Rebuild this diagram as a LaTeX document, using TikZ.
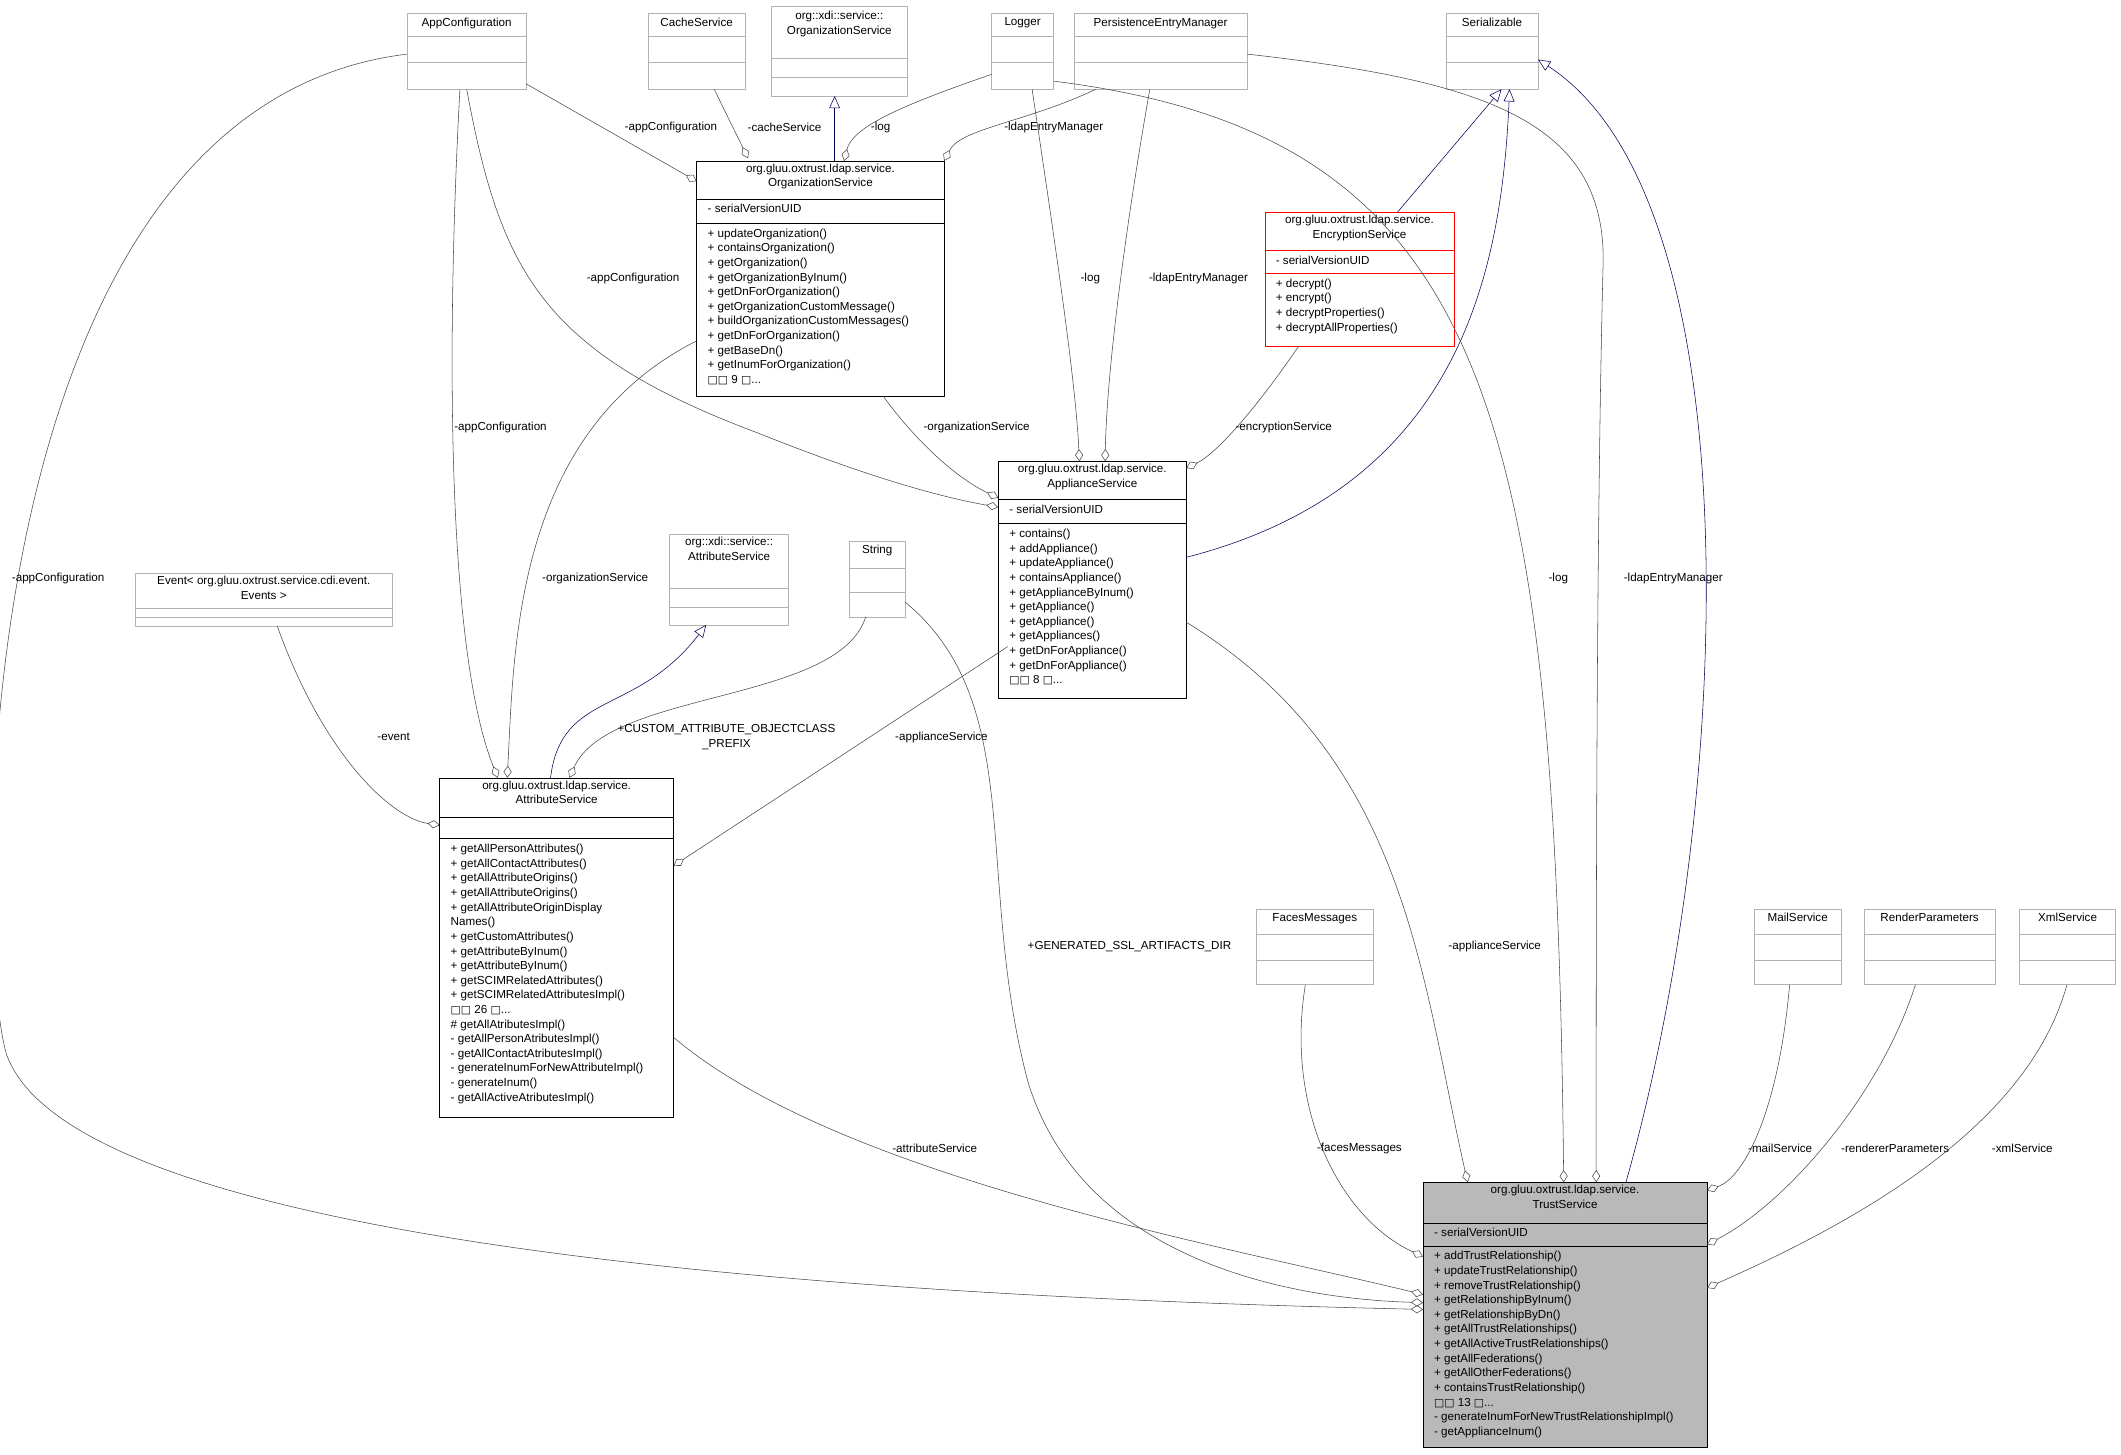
\documentclass[tikz,border=0pt]{standalone}
\usepackage{fontspec}
\setmainfont{Liberation Sans}
\newfontfamily\dv{DejaVu Sans}
\usetikzlibrary{arrows.meta}
\newcommand\bx{{\dv\fontsize{8}{10}\selectfont\char"25A1}}
\newcommand\cls[8]{%
 \draw[#8] (#2,#3) rectangle (#4,#5);
 \coordinate (#1) at ({(#2+#4)/2},{(#3+#5)/2});
 \draw[#8] (#2,#6)--(#4,#6) (#2,#7)--(#4,#7);}
\tikzset{
 txt/.style={font=\fontsize{8.6}{10.8}\selectfont, inner sep=0pt},
 ttl/.style={txt, align=center, anchor=north},
 mem/.style={txt, align=left, anchor=north west},
 lbl/.style={txt, align=center, fill=white, fill opacity=0, text opacity=1},
 gbox/.style={draw=gray!60},
 bbox/.style={draw=black},
 agg/.style={draw=black!72, -{Diamond[open,length=9pt,width=6pt]}},
 inh/.style={draw=blue!35!black, -{Triangle[open,length=9pt,width=8pt]}}
}
\begin{document}
\begin{tikzpicture}[x=1pt,y=-1pt]
\fill[white] (0,0) rectangle (1568,1075);
\useasboundingbox (0,0) rectangle (1568,1075);
% classes
\cls{appc}{301}{10}{389}{66}{27}{46}{gbox}
\node[ttl] at (345,13) {AppConfiguration};
\cls{cache}{479}{10}{551}{66}{27}{46}{gbox}
\node[ttl] at (515,13) {CacheService};
\cls{xos}{570}{5}{671}{71}{43}{57}{gbox}
\node[ttl] at (620.5,8) {org::xdi::service::\\OrganizationService};
\cls{log}{733}{10}{779}{66}{27}{46}{gbox}
\node[ttl] at (756,13) {Logger};
\cls{pem}{794}{10}{922}{66}{27}{46}{gbox}
\node[ttl] at (858,13) {PersistenceEntryManager};
\cls{ser}{1069}{10}{1137}{66}{27}{46}{gbox}
\node[ttl] at (1103,13) {Serializable};
\cls{os}{515}{119}{698}{293}{147}{165}{bbox}
\node[ttl] at (606.5,121) {org.gluu.oxtrust.ldap.service.\\OrganizationService};
\node[mem] at (523,151) {- serialVersionUID};
\node[mem] at (523,169) {+ updateOrganization()\\+ containsOrganization()\\+ getOrganization()\\+ getOrganizationByInum()\\+ getDnForOrganization()\\+ getOrganizationCustomMessage()\\+ buildOrganizationCustomMessages()\\+ getDnForOrganization()\\+ getBaseDn()\\+ getInumForOrganization()\\\bx\bx{} 9 \bx...};
\cls{enc}{935}{157}{1075}{256}{185}{202}{draw=red}
\node[ttl] at (1005,159) {org.gluu.oxtrust.ldap.service.\\EncryptionService};
\node[mem] at (943,189) {- serialVersionUID};
\node[mem] at (943,206) {+ decrypt()\\+ encrypt()\\+ decryptProperties()\\+ decryptAllProperties()};
\cls{app}{738}{341}{877}{516}{369}{387}{bbox}
\node[ttl] at (807.5,343) {org.gluu.oxtrust.ldap.service.\\ApplianceService};
\node[mem] at (746,373) {- serialVersionUID};
\node[mem] at (746,391) {+ contains()\\+ addAppliance()\\+ updateAppliance()\\+ containsAppliance()\\+ getApplianceByInum()\\+ getAppliance()\\+ getAppliance()\\+ getAppliances()\\+ getDnForAppliance()\\+ getDnForAppliance()\\\bx\bx{} 8 \bx...};
\cls{ev}{100}{424}{290}{463}{450}{456}{gbox}
\node[ttl] at (195,426) {Event< org.gluu.oxtrust.service.cdi.event.\\Events >};
\cls{xas}{495}{395}{583}{462}{435}{449}{gbox}
\node[ttl] at (539,397) {org::xdi::service::\\AttributeService};
\cls{str}{628}{400}{669}{456}{420}{438}{gbox}
\node[ttl] at (648.5,403) {String};
\cls{as}{325}{575}{498}{826}{604}{620}{bbox}
\node[ttl] at (411.5,577) {org.gluu.oxtrust.ldap.service.\\AttributeService};
\node[mem] at (333,624) {+ getAllPersonAttributes()\\+ getAllContactAttributes()\\+ getAllAttributeOrigins()\\+ getAllAttributeOrigins()\\+ getAllAttributeOriginDisplay\\Names()\\+ getCustomAttributes()\\+ getAttributeByInum()\\+ getAttributeByInum()\\+ getSCIMRelatedAttributes()\\+ getSCIMRelatedAttributesImpl()\\\bx\bx{} 26 \bx...\\\# getAllAtributesImpl()\\- getAllPersonAtributesImpl()\\- getAllContactAtributesImpl()\\- generateInumForNewAttributeImpl()\\- generateInum()\\- getAllActiveAtributesImpl()};
\cls{fm}{929}{672}{1015}{728}{691}{710}{gbox}
\node[ttl] at (972,675) {FacesMessages};
\cls{ms}{1297}{672}{1361}{728}{691}{710}{gbox}
\node[ttl] at (1329,675) {MailService};
\cls{rp}{1378}{672}{1475}{728}{691}{710}{gbox}
\node[ttl] at (1426.5,675) {RenderParameters};
\cls{xs}{1493}{672}{1564}{728}{691}{710}{gbox}
\node[ttl] at (1528.5,675) {XmlService};
\cls{ts}{1052}{874}{1262}{1070}{904}{921}{draw=black,fill=gray!55}
\draw[black] (1052,874) rectangle (1262,1070) (1052,904)--(1262,904) (1052,921)--(1262,921);
\node[ttl] at (1157,876) {org.gluu.oxtrust.ldap.service.\\TrustService};
\node[mem] at (1060,908) {- serialVersionUID};
\node[mem] at (1060,925) {+ addTrustRelationship()\\+ updateTrustRelationship()\\+ removeTrustRelationship()\\+ getRelationshipByInum()\\+ getRelationshipByDn()\\+ getAllTrustRelationships()\\+ getAllActiveTrustRelationships()\\+ getAllFederations()\\+ getAllOtherFederations()\\+ containsTrustRelationship()\\\bx\bx{} 13 \bx...\\- generateInumForNewTrustRelationshipImpl()\\- getApplianceInum()};
% edges to OrganizationService
\draw[agg] (389,62) -- (515,134);
\node[lbl] at (496,94) {-appConfiguration};
\draw[agg] (528,66) -- (553,117);
\node[lbl] at (580,94) {-cacheService};
\draw[inh] (617,119) -- (617,71);
\draw[agg] (733,55) .. controls (660,80) and (630,95) .. (624,119);
\node[lbl] at (651,94) {-log};
\draw[agg] (810,66) .. controls (760,90) and (710,95) .. (698,119);
\node[lbl] at (779,94) {-ldapEntryManager};
% edges to Appliance
\draw[inh] (1033,157) -- (1110,66);
\draw[agg] (345,66) .. controls (370,200) and (400,260) .. (560,320) .. controls (660,360) and (710,370) .. (738,375);
\node[lbl] at (468,206) {-appConfiguration};
\draw[agg] (653,293) .. controls (680,330) and (710,355) .. (738,368);
\node[lbl] at (722,316) {-organizationService};
\draw[agg] (763,66) .. controls (780,180) and (795,280) .. (798,341);
\node[lbl] at (806,206) {-log};
\draw[agg] (850,66) .. controls (830,180) and (818,280) .. (817,341);
\node[lbl] at (886,206) {-ldapEntryManager};
\draw[agg] (960,256) .. controls (930,300) and (900,335) .. (877,346);
\node[lbl] at (949,316) {-encryptionService};
\draw[inh] (877,412) .. controls (1080,360) and (1110,200) .. (1116,66);
% edges to AttributeService
\draw[agg] (340,66) .. controls (330,250) and (330,480) .. (368,575);
\node[lbl] at (370,316) {-appConfiguration};
\draw[agg] (515,252) .. controls (380,320) and (380,480) .. (375,575);
\node[lbl] at (440,428) {-organizationService};
\draw[agg] (205,463) .. controls (240,560) and (290,605) .. (325,610);
\node[lbl] at (291,545) {-event};
\draw[inh] (407,575) .. controls (415,510) and (470,530) .. (522,462);
\draw[agg] (640,456) .. controls (620,520) and (450,510) .. (421,575);
\node[lbl] at (537,545) {+CUSTOM\_ATTRIBUTE\_OBJECTCLASS\\\_PREFIX};
\draw[agg] (745,478) -- (498,640);
\node[lbl] at (696,545) {-applianceService};
% edges to TrustService
\draw[agg] (301,40) .. controls (-30,80) and (-20,700) .. (5,780) .. controls (60,930) and (700,960) .. (1052,968);
\node[lbl] at (43,428) {-appConfiguration};
\draw[agg] (779,60) .. controls (1100,100) and (1150,300) .. (1156,874);
\node[lbl] at (1152,428) {-log};
\draw[agg] (922,40) .. controls (1100,60) and (1190,90) .. (1185,200) .. controls (1180,400) and (1180,700) .. (1180,874);
\node[lbl] at (1237,428) {-ldapEntryManager};
\draw[inh] (1202,874) .. controls (1280,600) and (1300,150) .. (1137,44);
\draw[agg] (877,460) .. controls (1040,560) and (1050,720) .. (1085,874);
\node[lbl] at (1105,700) {-applianceService};
\draw[agg] (669,445) .. controls (760,520) and (720,650) .. (760,800) .. controls (800,930) and (950,960) .. (1052,963);
\node[lbl] at (835,700) {+GENERATED\_SSL\_ARTIFACTS\_DIR};
\draw[agg] (498,767) .. controls (620,870) and (900,920) .. (1052,957);
\node[lbl] at (691,849) {-attributeService};
\draw[agg] (965,728) .. controls (950,820) and (990,900) .. (1052,929);
\node[lbl] at (1005,849) {-facesMessages};
\draw[agg] (1323,728) .. controls (1315,820) and (1290,870) .. (1262,880);
\node[lbl] at (1316,849) {-mailService};
\draw[agg] (1416,728) .. controls (1390,810) and (1320,890) .. (1262,920);
\node[lbl] at (1401,849) {-rendererParameters};
\draw[agg] (1528,728) .. controls (1500,830) and (1380,900) .. (1262,952);
\node[lbl] at (1495,849) {-xmlService};
\end{tikzpicture}
\end{document}
